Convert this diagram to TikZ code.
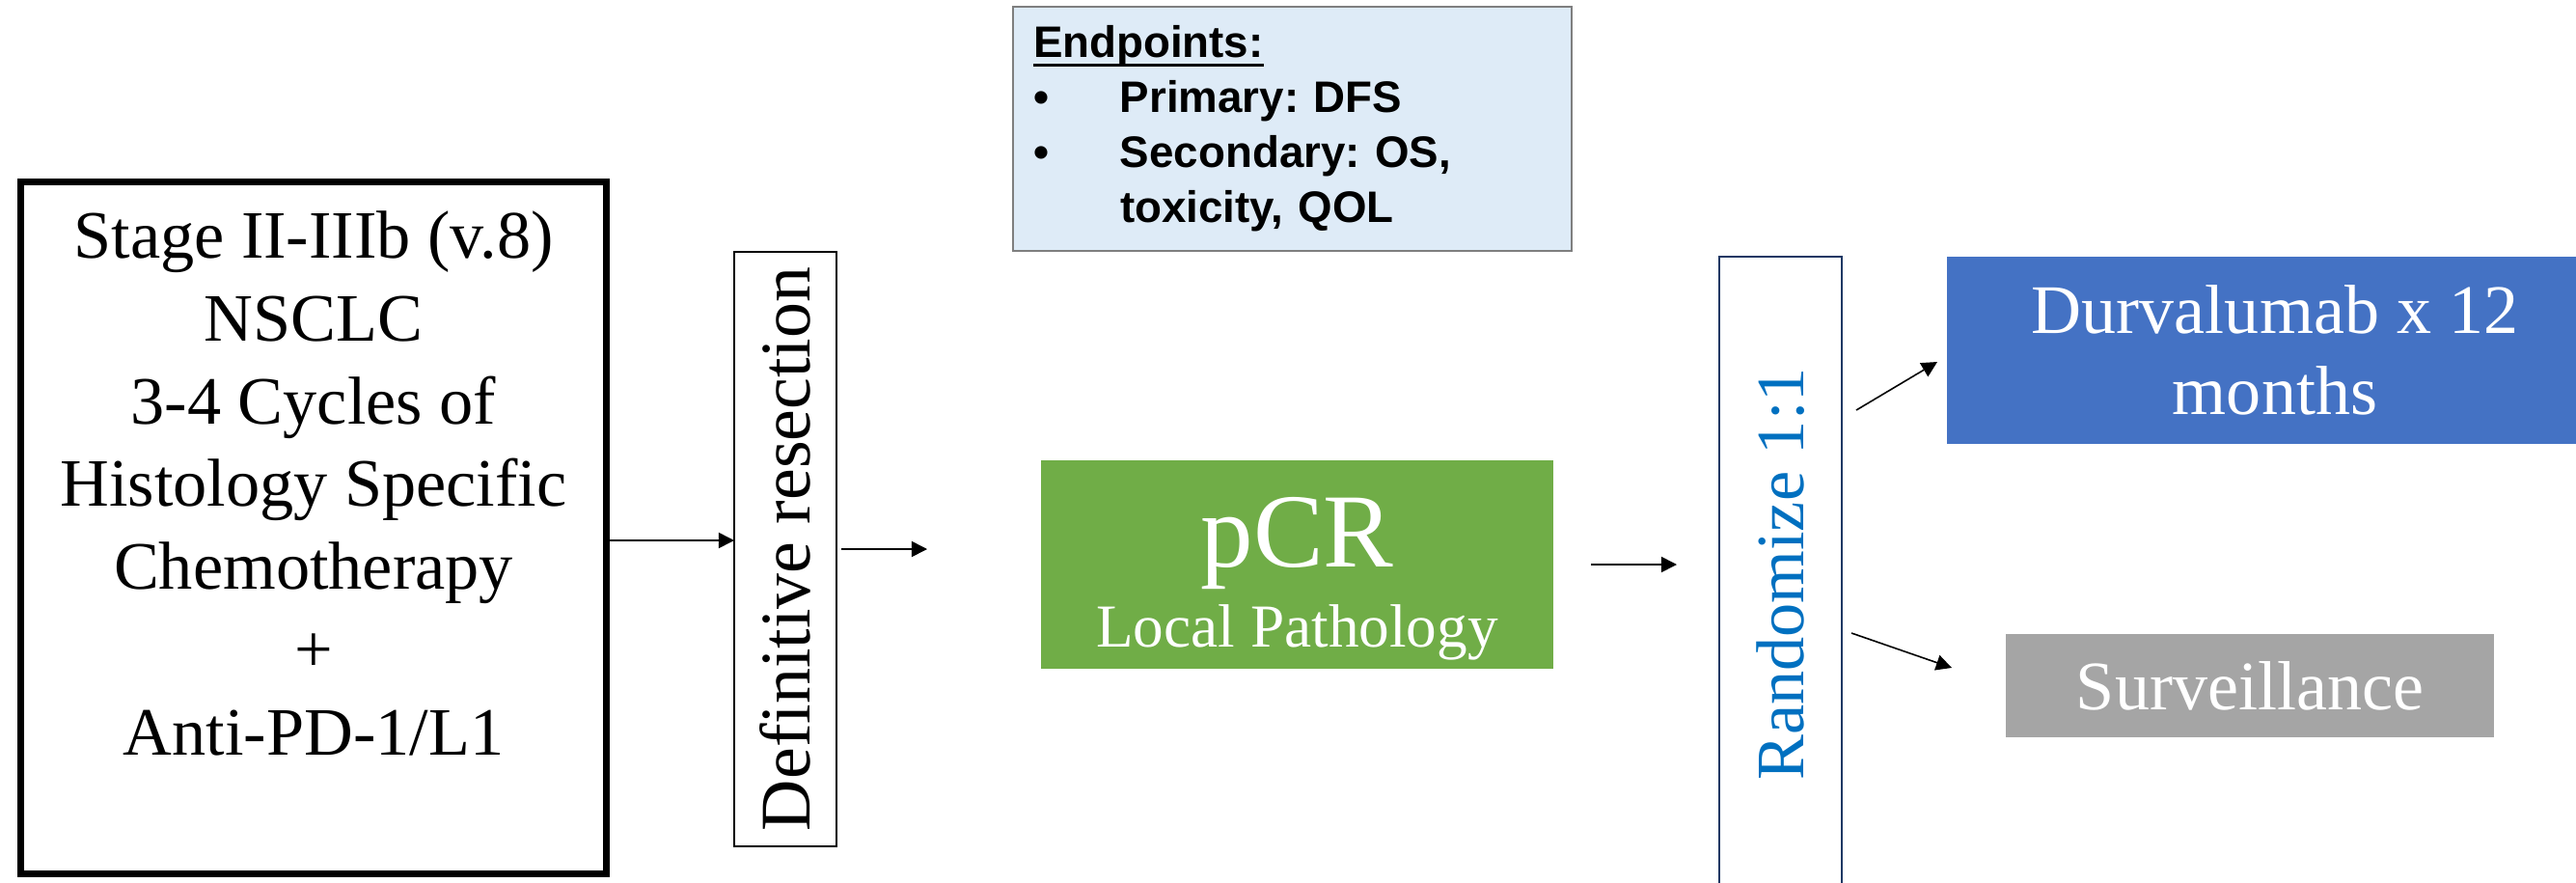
\documentclass[tikz,border=0pt]{standalone}
\usepackage{fontspec}
\setmainfont{Liberation Serif}
\newfontfamily\endfont{Liberation Sans}
\usepackage{xcolor}
\usetikzlibrary{arrows.meta, positioning}
\definecolor{pcrgreen}{HTML}{70AD47}
\definecolor{durvblue}{HTML}{4472C4}
\definecolor{survgray}{HTML}{A5A5A5}
\definecolor{endfill}{HTML}{DEEBF7}
\definecolor{endline}{HTML}{7F7F7F}
\definecolor{randnavy}{HTML}{1F3864}
\definecolor{randtext}{HTML}{0070C0}
% underline drawn close to the baseline
\newcommand{\ulhead}[1]{\setbox0=\hbox{#1}\rlap{\rule[-2.6pt]{\wd0}{0.9pt}}\box0}

\begin{document}
\begin{tikzpicture}[>={Triangle[length=4.6pt,width=4.6pt]}, inner sep=0pt, outer sep=0pt]
	\tikzstyle{framebox}=[rectangle, draw=black, align=center, font=\fontsize{20}{24.4}\selectfont]
	\tikzstyle{sidebar}=[rectangle, draw=black, rotate=90, line width=0.6pt, font=\fontsize{21}{24}\selectfont]
	\tikzstyle{fillbox}=[rectangle, text=white, align=center, font=\fontsize{20.5}{24}\selectfont]
	\tikzstyle{arr}=[->, line width=0.45pt]
	
	\path[use as bounding box, clip] (0,0) rectangle (26.7,9.14);
	
	\node[framebox, line width=2pt, minimum width=6.07cm, minimum height=7.17cm] (stage) at (3.25,3.67) {Stage II-IIIb (v.8)\\NSCLC\\3-4 Cycles of\\Histology Specific\\Chemotherapy\\+\\Anti-PD-1/L1\rule[-26.5pt]{0pt}{0pt}};
	\node[sidebar, minimum width=6.16cm, minimum height=1.06cm] (defres) at (8.14,3.45) {Definitive resection};
	\node[rectangle, draw=endline, fill=endfill, line width=0.8pt, minimum width=5.79cm, minimum height=2.53cm, text width=5.37cm, align=left, font=\endfont\bfseries\frenchspacing\fontsize{13}{16.2}\selectfont] (endpts) at (13.395,7.805) {\ulhead{Endpoints:}\\
		\makebox[0.9cm][l]{\textbullet}Primary: DFS\\
		\makebox[0.9cm][l]{\textbullet}Secondary: OS,\\
		\hspace*{0.9cm}toxicity, QOL};
	\node[fillbox, fill=pcrgreen, minimum width=5.31cm, minimum height=2.16cm, font=\fontsize{18}{23.6}\selectfont] (pcr) at (13.445,3.29) {\rule{0pt}{28.7pt}{\fontsize{31}{23.6}\selectfont pCR}\\Local Pathology};
	\node[sidebar, draw=randnavy, text=randtext, minimum width=6.58cm, minimum height=1.27cm, font=\fontsize{20}{24}\selectfont] (rand) at (18.455,3.19) {Randomize 1:1};
	\node[fillbox, fill=durvblue, minimum width=6.80cm, minimum height=1.94cm] (durv) at (23.58,5.51) {Durvalumab x 12\\months};
	\node[fillbox, fill=survgray, minimum width=5.06cm, minimum height=1.07cm] (surv) at (23.32,2.035) {Surveillance};
	
	\draw[arr] ([yshift=-0.13cm]stage.east) -- ([yshift=-0.13cm]stage.east -| defres.north);
	\draw[arr, shorten <=0.05cm, shorten >=1.18cm] (defres.south) -- (defres.south -| pcr.west);
	\draw[arr, shorten <=0.39cm, shorten >=0.44cm] (pcr.east) -- (pcr.east -| rand.north);
	\draw[arr] ([shift={(0.15,1.70)}]rand.south) -- ([shift={(-0.10,-0.12)}]durv.west);
	\draw[arr] ([shift={(0.10,-0.61)}]rand.south) -- ([shift={(-0.56,0.185)}]surv.west);
	
\end{tikzpicture}
\end{document}
